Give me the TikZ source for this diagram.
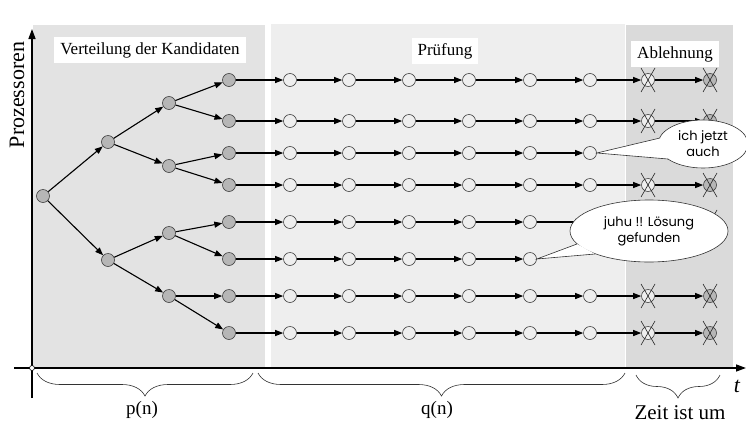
\documentclass[tikz,border=0pt]{standalone}
\usepackage{fontspec}
\setmainfont{Liberation Serif}
\newfontfamily\callfont{Poppins}
\usetikzlibrary{arrows.meta,decorations.pathreplacing,shapes.geometric,calc}
\definecolor{nodegray}{HTML}{B6B6B6}
\definecolor{nodewhite}{HTML}{EEEEEE}
\definecolor{bgleft}{HTML}{E3E3E3}
\definecolor{bgmid}{HTML}{EEEEEE}
\definecolor{bgright}{HTML}{DADADA}
\tikzset{
  dist/.style={circle, draw=black!75, fill=nodegray, minimum size=13pt, inner sep=0pt, line width=0.6pt},
  test/.style={circle, draw=black!75, fill=nodewhite, minimum size=13pt, inner sep=0pt, line width=0.6pt},
  edge/.style={-{Triangle[length=8pt,width=6pt]}, line width=1.1pt},
  xline/.style={line width=0.6pt, draw=black!85},
  axisarrow/.style={-{Triangle[length=10pt,width=7pt]}, line width=1.4pt},
  lbl/.style={fill=white, font=\fontsize{17}{20}\selectfont, inner xsep=6pt, inner ysep=5pt, anchor=base},
  bigl/.style={font=\fontsize{19}{22}\selectfont},
  bracestyle/.style={decorate, decoration={brace, mirror, amplitude=23pt}, line width=0.6pt, draw=black!80},
  callout/.style={ellipse, draw=black!80, fill=white, line width=0.6pt, inner sep=0pt, align=center, font=\callfont\fontsize{13}{16}\selectfont},
  tailfill/.style={fill=white},
  tailline/.style={draw=black!80, line width=0.6pt}
}
\begin{document}
\begin{tikzpicture}[x=1pt,y=-1pt]
\useasboundingbox (0,0) rectangle (746,434);
\fill[white] (0,0) rectangle (746,434);
% background regions
\fill[bgleft] (33,25) rectangle (265,368);
\fill[bgmid] (271,24) rectangle (625,368);
\fill[bgright] (626,25) rectangle (733,368);

% labels
\node[lbl] (lverteilung) at (150,54) {Verteilung der Kandidaten};
\node[lbl] (lpruefung) at (445,55) {Prüfung};
\node[lbl] (lablehnung) at (675,58) {Ablehnung};
\node[rotate=90, font=\fontsize{22}{24}\selectfont] (lproz) at (17,95) {Prozessoren};

% axes
\draw[axisarrow] (32,398) -- (32,29);
\draw[axisarrow] (14,368) -- (746,368);
\node[circle, draw=black, fill=white, minimum size=5pt, inner sep=0pt, line width=0.6pt] (O) at (32,368) {};
\node[font=\itshape\fontsize{22}{24}\selectfont] (tlabel) at (737,386) {t};

% distribution tree
\node[dist] (root) at (43,196) {};
\node[dist] (a1) at (108,142) {};
\node[dist] (a2) at (108,260) {};
\node[dist] (b1) at (169,103) {};
\node[dist] (b2) at (169,166) {};
\node[dist] (b3) at (169,233) {};
\node[dist] (b4) at (169,296) {};

\foreach \r/\y/\n in {1/80/8, 2/121/8, 3/153/6, 4/185/8, 5/222/8, 6/259/5, 7/296/8, 8/333/8}{
  \node[dist] (r\r c0) at (229,\y) {};
  \foreach \c/\x in {1/290,2/349,3/409,4/469,5/530,6/590,7/648,8/710}{
    \ifnum\c>\n\relax\else
      \pgfmathtruncatemacro\p{\c-1}
      \ifnum\c=8
        \node[dist] (r\r c\c) at (\x,\y) {};
      \else
        \node[test] (r\r c\c) at (\x,\y) {};
      \fi
      \draw[edge] (r\r c\p) -- (r\r c\c);
      \ifnum\c>6
        \draw[xline] (r\r c\c.center) ++(-7,-12) -- ++(14,24);
        \draw[xline] (r\r c\c.center) ++(7,-12) -- ++(-14,24);
      \fi
    \fi
  }
}

\draw[edge] (root) -- (a1);
\draw[edge] (root) -- (a2);
\draw[edge] (a1) -- (b1);
\draw[edge] (a1) -- (b2);
\draw[edge] (a2) -- (b3);
\draw[edge] (a2) -- (b4);
\draw[edge] (b1) -- (r1c0);
\draw[edge] (b1) -- (r2c0);
\draw[edge] (b2) -- (r3c0);
\draw[edge] (b2) -- (r4c0);
\draw[edge] (b3) -- (r5c0);
\draw[edge] (b3) -- (r6c0);
\draw[edge] (b4) -- (r7c0);
\draw[edge] (b4) -- (r8c0);

% braces
\coordinate (bp1) at (37,373);
\coordinate (bp2) at (253,373);
\coordinate (bq1) at (258,373);
\coordinate (bq2) at (625,373);
\coordinate (bz1) at (636,375);
\coordinate (bz2) at (720,375);
\draw[bracestyle] (bp1) -- (bp2);
\draw[bracestyle] (bq1) -- (bq2);
\draw[bracestyle] (bz1) -- (bz2);
\node[bigl] (pn) at (142,410) {p(n)};
\node[bigl] (qn) at (437,410) {q(n)};
\node[font=\fontsize{21}{24}\selectfont] (zeit) at (680,413) {Zeit ist um};

% callout 1
\node[callout, minimum width=90pt, minimum height=48pt] (call1) at (703,144) {ich jetzt\\auch};
\coordinate (c1a) at (660,138);
\coordinate (c1b) at (668,159);
\fill[tailfill] (r3c6.east) -- (c1a) -- (c1b) -- cycle;
\draw[tailline] (c1a) -- (r3c6.east) -- (c1b);

% callout 2
\node[callout, minimum width=158pt, minimum height=62pt] (call2) at (649,231) {juhu !! Lösung\\gefunden};
\coordinate (c2a) at (577,244);
\coordinate (c2b) at (595,254);
\fill[tailfill] (r6c5.east) -- (c2a) -- (c2b) -- cycle;
\draw[tailline] (c2a) -- (r6c5.east) -- (c2b);
\end{tikzpicture}
\end{document}
